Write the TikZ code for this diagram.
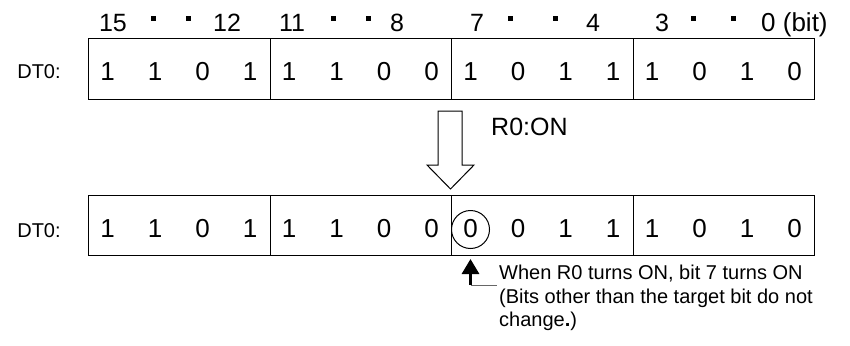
\documentclass[tikz,border=0pt]{standalone}
\usepackage{fontspec}
\setmainfont{Liberation Sans}
\usetikzlibrary{arrows.meta}
\begin{document}
\begin{tikzpicture}[x=1pt,y=-1pt,
  grp/.style={draw, line width=1pt, minimum width=181.5pt, minimum height=60.5pt, inner sep=0, anchor=north west},
  dig/.style={font=\fontsize{26}{30}\selectfont, inner sep=0, anchor=base},
  lbl/.style={font=\fontsize{25}{30}\selectfont, inner sep=0, anchor=base},
  sqdot/.style={fill=black, minimum size=5pt, inner sep=0, anchor=center},
  regl/.style={font=\fontsize{20}{24}\selectfont, inner sep=0, anchor=base},
  note/.style={font=\fontsize{20}{23.5}\selectfont, inner sep=0, align=left, anchor=north west}]
\useasboundingbox (0,0) rectangle (850,345);
% row boxes
\foreach \g in {0,...,3}{
  \node[grp] (tg\g) at ({88+181.5*\g},38) {};
  \node[grp] (bg\g) at ({88+181.5*\g},194.5) {};
}
% digits
\foreach \v [count=\i from 0] in {1,1,0,1,1,1,0,0,1,0,1,1,1,0,1,0}{
  \pgfmathsetmacro\xx{88+181.5*int(\i/4)+19.5+47.5*mod(\i,4)}
  \node[dig] (t\i) at (\xx,80) {\v};
}
\foreach \v [count=\i from 0] in {1,1,0,1,1,1,0,0,0,0,1,1,1,0,1,0}{
  \pgfmathsetmacro\xx{88+181.5*int(\i/4)+19.5+47.5*mod(\i,4)}
  \node[dig] (b\i) at (\xx,237.5) {\v};
}
% DT0 labels
\node[regl] (dtt) at (39,78.5) {DT0:};
\node[regl] (dtb) at (39,237.5) {DT0:};
% bit labels
\node[lbl] (l15) at (113,31.5) {15};
\node[sqdot] (d1) at (153,19) {};
\node[sqdot] (d2) at (188,19) {};
\node[lbl] (l12) at (227,31.5) {12};
\node[lbl] (l11) at (292,31.5) {11};
\node[sqdot] (d3) at (333,19) {};
\node[sqdot] (d4) at (368,19) {};
\node[lbl] (l8) at (397,31.5) {8};
\node[lbl] (l7) at (477,31.5) {7};
\node[sqdot] (d5) at (510,19) {};
\node[sqdot] (d6) at (555,19) {};
\node[lbl] (l4) at (593,31.5) {4};
\node[lbl] (l3) at (662,31.5) {3};
\node[sqdot] (d7) at (693,19) {};
\node[sqdot] (d8) at (733,19) {};
\node[lbl, anchor=base west, font=\fontsize{26}{30}\selectfont] (l0) at (761,31.5) {0 (bit)};
% hollow arrow
\draw[line width=1pt, fill=white] (438,111) -- (462,111) -- (462,165) -- (474,165) -- (450.5,189) -- (427,165) -- (438,165) -- cycle;
\node[font=\fontsize{25}{30}\selectfont, inner sep=0, anchor=west] (r0) at (491,127) {R0:ON};
% circle
\node[circle, draw, line width=1pt, minimum size=38pt, inner sep=0] (circ) at (470.5,229.5) {};
% note
\node[note] (txt) at (499,265) {When R0 turns ON, bit 7 turns ON\\(Bits other than the target bit do not\\change\textbf{.})};
\coordinate (bend) at (470.5,285);
\coordinate (lend) at (497,285);
\draw[line width=3pt, -{Triangle[width=17pt 0 0,length=15pt 0 0]}, shorten >=10pt] (bend) -- (circ.south);
\draw[line width=1pt, black!60] (bend) -- (lend);
\end{tikzpicture}
\end{document}
